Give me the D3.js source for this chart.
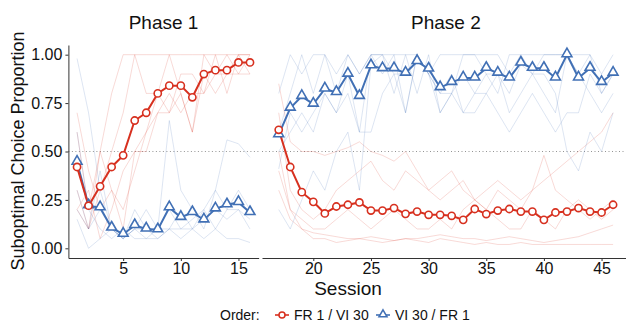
<!DOCTYPE html>
<html>
<head>
<meta charset="utf-8">
<script src="https://cdn.jsdelivr.net/npm/d3@7"></script>
<style>
  body { margin: 0; background: #fff; }
  svg { display: block; font-family: "Liberation Sans", Arial, sans-serif; }
</style>
</head>
<body>
<svg id="chart" width="626" height="329"></svg>
<script>
// sessions per phase
var sessions1 = [1,2,3,4,5,6,7,8,9,10,11,12,13,14,15,16];
var sessions2 = [17,18,19,20,21,22,23,24,25,26,27,28,29,30,31,
                 32,33,34,35,36,37,38,39,40,41,42,43,44,45,46];

// group means
var meanFR1 = [0.42,0.22,0.32,0.42,0.48,0.66,0.70,0.80,0.84,0.84,0.78,0.90,0.92,0.92,0.96,0.96];
var meanVI1 = [0.445,0.22,0.21,0.105,0.073,0.118,0.10,0.096,0.21,0.16,0.185,0.147,0.204,0.225,0.237,0.185];
var meanFR2 = [0.612,0.42,0.29,0.24,0.18,0.216,0.225,0.237,0.195,0.195,0.208,0.178,0.19,0.173,0.173,
               0.168,0.147,0.203,0.177,0.195,0.203,0.19,0.19,0.147,0.185,0.19,0.208,0.19,0.185,0.225];
var meanVI2 = [0.587,0.724,0.785,0.745,0.823,0.805,0.90,0.785,0.943,0.928,0.928,0.905,0.965,0.926,0.83,
               0.857,0.88,0.88,0.93,0.905,0.88,0.957,0.93,0.93,0.88,1.0,0.88,0.93,0.857,0.905];

// individual subjects (faint lines), approximate
var subjFR1 = [
  [0.60,0.20,0.50,0.80,1.00,1.00,1.00,1.00,1.00,1.00,1.00,1.00,1.00,1.00,1.00,1.00],
  [0.30,0.10,0.30,0.50,0.70,1.00,0.80,0.80,1.00,0.80,0.60,1.00,0.90,1.00,0.90,1.00],
  [0.20,0.30,0.05,0.20,0.40,0.50,0.60,0.80,0.70,0.80,0.60,0.90,0.80,0.90,1.00,1.00],
  [0.70,0.40,0.20,0.30,0.20,0.40,0.60,0.70,0.70,0.90,0.90,0.80,1.00,0.80,1.00,0.90],
  [0.20,0.10,0.50,0.30,0.10,0.50,0.50,0.70,0.80,0.70,0.80,0.80,0.90,0.90,0.90,0.90]
];
var subjVI1 = [
  [0.98,0.70,0.30,0.10,0.05,0.20,0.10,0.05,0.10,0.05,0.10,0.05,0.10,0.05,0.05,0.03],
  [0.30,0.10,0.20,0.10,0.05,0.10,0.10,0.10,0.66,0.30,0.20,0.10,0.30,0.20,0.30,0.20],
  [0.60,0.20,0.10,0.05,0.10,0.05,0.05,0.10,0.20,0.10,0.15,0.20,0.30,0.56,0.54,0.47],
  [0.20,0.10,0.40,0.10,0.05,0.10,0.20,0.10,0.10,0.20,0.10,0.20,0.10,0.20,0.20,0.10],
  [0.15,0.00,0.05,0.10,0.05,0.10,0.05,0.05,0.10,0.10,0.10,0.15,0.20,0.15,0.20,0.15]
];
var subjFR2 = [
  [0.85,0.55,0.50,0.50,0.48,0.50,0.52,0.55,0.50,0.48,0.45,0.50,0.40,0.30,0.35,
   0.40,0.30,0.25,0.30,0.35,0.30,0.25,0.30,0.35,0.40,0.45,0.50,0.55,0.60,0.70],
  [0.70,0.30,0.20,0.15,0.20,0.30,0.35,0.40,0.45,0.35,0.30,0.40,0.35,0.30,0.25,
   0.30,0.35,0.25,0.20,0.30,0.25,0.20,0.30,0.48,0.30,0.25,0.20,0.15,0.20,0.25],
  [0.50,0.20,0.15,0.10,0.10,0.15,0.20,0.15,0.10,0.15,0.20,0.15,0.10,0.10,0.15,
   0.10,0.20,0.25,0.20,0.15,0.10,0.10,0.20,0.15,0.10,0.20,0.25,0.20,0.15,0.20],
  [0.30,0.15,0.10,0.08,0.07,0.06,0.05,0.05,0.06,0.05,0.04,0.05,0.05,0.06,0.07,
   0.06,0.05,0.05,0.04,0.05,0.06,0.05,0.04,0.03,0.04,0.05,0.06,0.08,0.10,0.12],
  [0.40,0.20,0.10,0.05,0.05,0.03,0.04,0.05,0.04,0.03,0.04,0.05,0.04,0.03,0.05,
   0.04,0.03,0.02,0.03,0.02,0.02,0.03,0.02,0.02,0.02,0.02,0.02,0.02,0.02,0.02]
];
var subjVI2 = [
  [0.80,1.00,0.90,1.00,1.00,0.90,1.00,0.90,1.00,1.00,1.00,1.00,1.00,0.90,1.00,
   1.00,1.00,1.00,1.00,1.00,0.90,1.00,1.00,1.00,1.00,1.00,1.00,1.00,0.90,1.00],
  [0.60,0.80,1.00,0.80,1.00,0.80,1.00,0.90,1.00,1.00,0.80,1.00,0.80,1.00,0.70,
   0.80,1.00,1.00,0.90,0.80,1.00,1.00,0.90,1.00,1.00,1.00,0.90,1.00,0.80,0.90],
  [0.50,0.60,0.70,0.60,0.80,0.70,0.90,0.60,1.00,0.90,1.00,0.70,1.00,0.90,0.80,
   0.90,0.70,0.80,0.80,0.90,0.70,0.80,0.90,0.80,0.70,1.00,0.90,0.80,0.70,0.80],
  [0.41,0.70,0.60,0.70,0.80,0.70,0.80,0.60,0.60,0.80,0.90,0.70,1.00,0.90,0.80,
   0.80,0.70,0.70,0.80,0.70,0.60,0.70,0.80,0.70,0.60,0.70,0.70,0.90,0.80,0.90],
  [0.20,0.10,0.25,0.40,0.30,0.50,0.60,0.30,0.95,1.00,0.90,0.90,1.00,0.90,0.70,
   0.80,0.90,0.80,0.90,0.90,0.80,0.95,0.90,0.90,0.80,0.50,0.40,0.60,0.50,0.70]
];

var yTicks = [0, 0.25, 0.5, 0.75, 1];
var xTicks1 = [5, 10, 15];
var xTicks2 = [20, 25, 30, 35, 40, 45];
var groups = ["FR 1 / VI 30", "VI 30 / FR 1"];
var red = "#d7301f", blue = "#4170b5";

var svg = d3.select("#chart");

// both panels share px per session (space = free_x)
var pxPerUnit = 11.53;
var x1 = d3.scaleLinear().domain([0.25, 16.75]).range([68.4, 68.4 + 16.5 * pxPerUnit]);
var x2 = d3.scaleLinear().domain([15.55, 47.45]).range([262, 262 + 31.9 * pxPerUnit]);
var y = d3.scaleLinear().domain([-0.05, 1.05]).range([258, 45]);

var line = function(xs) {
    return d3.line().x(function(d) { return xs(d[0]); }).y(function(d) { return y(d[1]); });
};
var zip = function(s, v) { return s.map(function(d, i) { return [d, v[i]]; }); };

var tri = d3.symbol().type(d3.symbolTriangle).size(42);

var drawPanel = function(xs, sess, subjR, subjB, mR, mB, ticks, title) {
    var g = svg.append("g");
    var r = xs.range();

    // reference line at chance
    g.append("line")
        .attr("x1", r[0]).attr("x2", r[1])
        .attr("y1", y(0.5)).attr("y2", y(0.5))
        .attr("stroke", "#888").attr("stroke-width", 0.9)
        .attr("stroke-dasharray", "1,2.5");

    subjR.forEach(function(s) {
        g.append("path").attr("d", line(xs)(zip(sess, s)))
            .attr("fill", "none").attr("stroke", red).attr("stroke-opacity", 0.18).attr("stroke-width", 1);
    });
    subjB.forEach(function(s) {
        g.append("path").attr("d", line(xs)(zip(sess, s)))
            .attr("fill", "none").attr("stroke", blue).attr("stroke-opacity", 0.18).attr("stroke-width", 1);
    });

    g.append("path").attr("d", line(xs)(zip(sess, mB)))
        .attr("fill", "none").attr("stroke", blue).attr("stroke-width", 2);
    g.append("path").attr("d", line(xs)(zip(sess, mR)))
        .attr("fill", "none").attr("stroke", red).attr("stroke-width", 2);

    g.selectAll(".tri").data(zip(sess, mB)).enter().append("path")
        .attr("d", tri)
        .attr("transform", function(d) { return "translate(" + xs(d[0]) + "," + (y(d[1]) - 0.8) + ")"; })
        .attr("fill", "#fff").attr("stroke", blue).attr("stroke-width", 1.6);
    g.selectAll(".circ").data(zip(sess, mR)).enter().append("circle")
        .attr("cx", function(d) { return xs(d[0]); })
        .attr("cy", function(d) { return y(d[1]); })
        .attr("r", 3.6)
        .attr("fill", "#fff").attr("stroke", red).attr("stroke-width", 1.6);

    // bottom axis
    var ax = g.append("g").attr("transform", "translate(0,258)")
        .call(d3.axisBottom(xs).tickValues(ticks).tickSize(3).tickPadding(2).tickSizeOuter(0));
    ax.select(".domain").attr("stroke", "#333");
    ax.selectAll(".tick line").attr("stroke", "#333");
    ax.selectAll("text").attr("font-size", 16).attr("fill", "#111")
        .attr("font-family", "Liberation Sans, Arial, sans-serif");

    svg.append("text")
        .attr("x", (r[0] + r[1]) / 2).attr("y", 29)
        .attr("text-anchor", "middle").attr("font-size", 19).attr("fill", "#111")
        .text(title);
};

drawPanel(x1, sessions1, subjFR1, subjVI1, meanFR1, meanVI1, xTicks1, "Phase 1");
drawPanel(x2, sessions2, subjFR2, subjVI2, meanFR2, meanVI2, xTicks2, "Phase 2");

// y axis on the first panel only
var yax = svg.append("g").attr("transform", "translate(68.4,0)")
    .call(d3.axisLeft(y).tickValues(yTicks).tickFormat(d3.format(".2f")).tickSize(3).tickPadding(3).tickSizeOuter(0));
yax.select(".domain").attr("stroke", "#333");
yax.selectAll(".tick line").attr("stroke", "#333");
yax.selectAll("text").attr("font-size", 16).attr("fill", "#111")
    .attr("font-family", "Liberation Sans, Arial, sans-serif");

svg.append("text")
    .attr("transform", "translate(24,151) rotate(-90)")
    .attr("text-anchor", "middle").attr("font-size", 18).attr("fill", "#111")
    .text("Suboptimal Choice Proportion");

svg.append("text")
    .attr("x", 348).attr("y", 295)
    .attr("text-anchor", "middle").attr("font-size", 19).attr("fill", "#111")
    .text("Session");

// legend
var lg = svg.append("g").attr("transform", "translate(0,315)");
lg.append("text").attr("x", 220).attr("y", 5).attr("font-size", 14).attr("fill", "#111").text("Order:");
var items = [{x: 282, label: groups[0], col: red, shape: "c"}, {x: 383, label: groups[1], col: blue, shape: "t"}];
items.forEach(function(it) {
    lg.append("line").attr("x1", it.x - 7).attr("x2", it.x + 7).attr("y1", 0).attr("y2", 0)
        .attr("stroke", it.col).attr("stroke-width", 1.6);
    if (it.shape === "c") {
        lg.append("circle").attr("cx", it.x).attr("cy", 0).attr("r", 3)
            .attr("fill", "#fff").attr("stroke", it.col).attr("stroke-width", 1.5);
    } else {
        lg.append("path").attr("d", d3.symbol().type(d3.symbolTriangle).size(28))
            .attr("transform", "translate(" + it.x + ",-0.5)")
            .attr("fill", "#fff").attr("stroke", it.col).attr("stroke-width", 1.5);
    }
    lg.append("text").attr("x", it.x + 12).attr("y", 5).attr("font-size", 14).attr("fill", "#111").text(it.label);
});
</script>
</body>
</html>
